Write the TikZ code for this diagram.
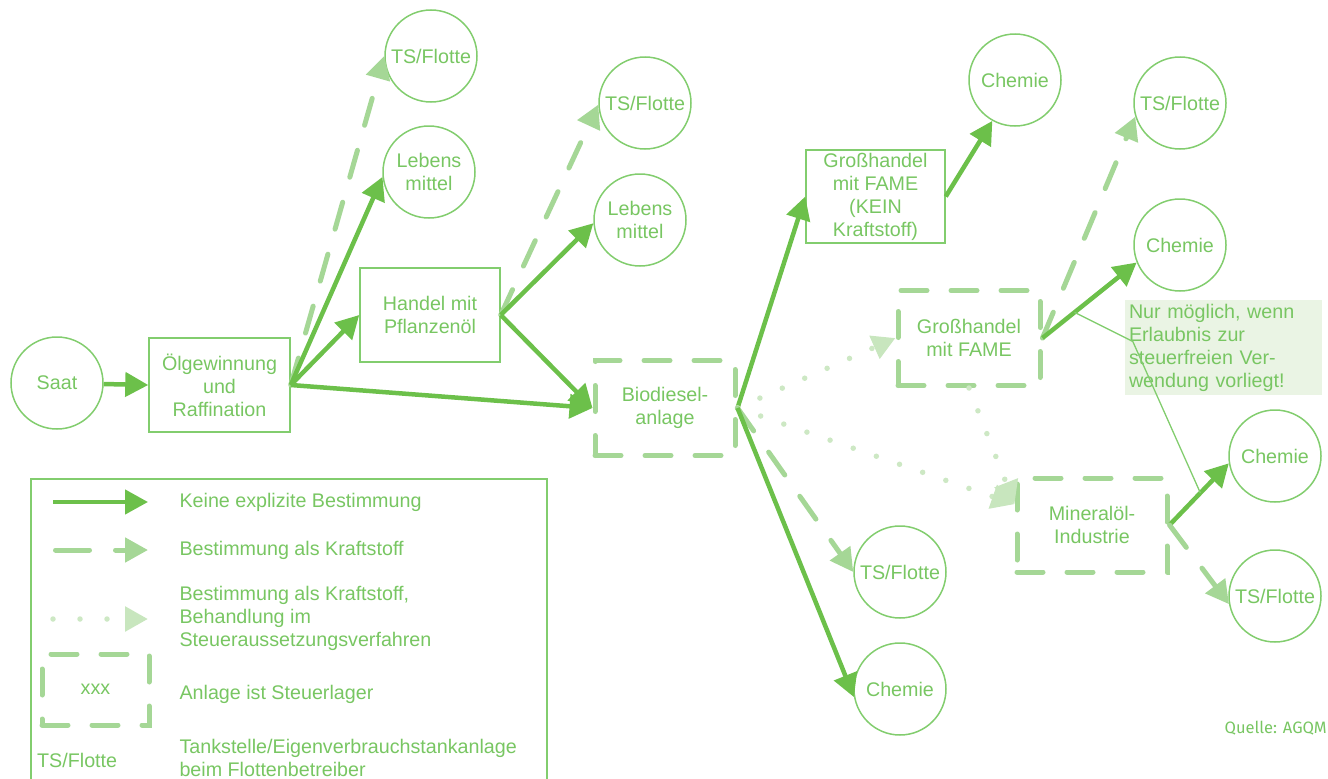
\documentclass[tikz,border=0pt]{standalone}
\usepackage{fontspec}
\setmainfont{Liberation Sans}
\newfontfamily\quellefont{Fira Sans}
\usetikzlibrary{arrows.meta,calc}
\definecolor{gsolid}{RGB}{108,192,74}
\definecolor{gtext}{RGB}{120,198,98}
\definecolor{gthin}{RGB}{130,205,110}
\definecolor{gdash}{RGB}{165,215,150}
\definecolor{gdot}{RGB}{205,232,196}
\definecolor{gdothead}{RGB}{200,230,190}
\definecolor{gnote}{RGB}{234,244,228}
\begin{document}
\begin{tikzpicture}[x=1pt,y=-1pt,
  every node/.style={font=\fontsize{19.7}{23}\selectfont, text=gtext, align=center},
  circ/.style={circle, draw=gthin, line width=1.5pt, minimum size=92pt, inner sep=0pt},
  plainbox/.style={rectangle, draw=gthin, line width=1.5pt, minimum width=#1, minimum height=94pt, inner sep=2pt},
  plainbox/.default=140pt,
  lagerbox/.style={rectangle, draw=gdash, line width=5pt, dash pattern=on 26pt off 24pt, line cap=round, minimum width=#1, minimum height=95pt, inner sep=2pt},
  lagerbox/.default=140pt,
  solidarr/.style={draw=gsolid, line width=4.5pt, -{Triangle[length=23pt,width=24pt]}},
  dasharr/.style={draw=gdash, line width=5pt, dash pattern=on 28pt off 26pt, line cap=round, -{Triangle[length=23pt,width=24pt]}},
  dotarr/.style={draw=gdot, line width=5.5pt, dash pattern=on 0pt off 24.5pt, line cap=round, -{Triangle[length=23pt,width=24pt,color=gdothead]}},
  legtext/.style={anchor=west, align=left}
]
\useasboundingbox (0,0) rectangle (1328,779);

% nodes
\node[circ] (saat) at (57,383) {Saat};
\node[plainbox=141pt] (olg) at (219.5,385) {Ölgewinnung\\und\\Raffination};
\node[circ] (ts1) at (431,56) {TS/Flotte};
\node[circ] (leb1) at (429,172) {Lebens\\mittel};
\node[plainbox] (handel) at (430,315) {Handel mit\\Pflanzenöl};
\node[circ] (ts2) at (645,103) {TS/Flotte};
\node[circ] (leb2) at (640,220) {Lebens\\mittel};
\node[lagerbox] (bio) at (665,408) {Biodiesel-\\anlage};
\node[plainbox=139pt, minimum height=93pt] (gk) at (875.5,196.5) {Großhandel\\mit FAME\\(KEIN\\Kraftstoff)};
\node[circ] (ch1) at (1015,80) {Chemie};
\node[circ] (ts3) at (1180,103) {TS/Flotte};
\node[circ] (ch2) at (1180,245) {Chemie};
\node[lagerbox=142pt] (gf) at (969,338) {Großhandel\\mit FAME};
\node[fill=gnote, text width=189pt, inner sep=4pt, minimum height=95pt, align=left] (note) at (1223.5,347.5)
  {Nur möglich, wenn\\Erlaubnis zur\\steuerfreien Ver-\\wendung vorliegt!};
\node[circ] (ch3) at (1275,456) {Chemie};
\node[lagerbox=150pt, minimum height=94pt] (min) at (1092,525) {Mineralöl-\\Industrie};
\node[circ] (ts4) at (1275,596) {TS/Flotte};
\node[circ] (ts5) at (900,572) {TS/Flotte};
\node[circ] (ch4) at (900,689) {Chemie};

% connectors
\draw[solidarr] (saat) -- (olg.west);
\draw[dasharr] (olg.east) -- (ts1.west);
\draw[solidarr] (olg.east) -- (leb1.186);
\draw[solidarr] (olg.east) -- (handel.west);
\draw[solidarr] (olg.east) -- (bio.west);
\draw[dasharr] (handel.east) -- (ts2.182);
\draw[solidarr] (handel.east) -- (leb2.184);
\draw[solidarr] (handel.east) -- (bio.west);
\draw[solidarr] (bio.east) -- (gk.west);
\draw[dotarr] (bio.east) -- (gf.west);
\draw[dotarr] (bio.east) -- (min.165);
\draw[dotarr] (gf.south) -- (min.165);
\draw[dasharr] (bio.east) -- (ts5.west);
\draw[solidarr] (bio.east) -- (ch4.190);
\draw[solidarr] (gk.east) -- (ch1.241);
\draw[dasharr] (gf.east) -- (ts3.197);
\draw[solidarr] (gf.east) -- (ch2.202);
\draw[solidarr] (min.east) -- (ch3.189);
\draw[dasharr] (min.east) -- (ts4.190);

% callout
\coordinate (c1) at ($(gf.east)!0.34!(ch2.202)$);
\coordinate (c2) at ($(note.west)+(8,-6)$);
\coordinate (c3) at ($(min.east)!0.52!(ch3.189)$);
\draw[gthin, line width=1.3pt] (c1) -- (c2) -- (c3);

% legend
\draw[gthin, line width=1.5pt] (31,779) -- (31,479) -- (547,479) -- (547,779);
\coordinate (l1a) at (53,502); \coordinate (l1b) at (148,502);
\draw[solidarr] (l1a) -- (l1b);
\node[legtext] (t1) at (176,502) {Keine explizite Bestimmung};
\coordinate (l2a) at (55.5,550); \coordinate (l2b) at (148,550);
\draw[dasharr, dash pattern=on 34pt off 26pt] (l2a) -- (l2b);
\node[legtext] (t2) at (176,550) {Bestimmung als Kraftstoff};
\coordinate (l3a) at (53,619); \coordinate (l3b) at (148,619);
\draw[dotarr, dash pattern=on 0pt off 27pt] (l3a) -- (l3b);
\node[legtext] (t3) at (176,618) {Bestimmung als Kraftstoff,\\Behandlung im\\Steueraussetzungsverfahren};
\node[lagerbox=107pt, minimum height=71pt] (lx) at (95.5,689.5) {xxx};
\node[legtext] (t4) at (176,694) {Anlage ist Steuerlager};
\node[anchor=west, inner sep=0pt] (tsl) at (37,760) {TS/Flotte};
\node[legtext] (t5) at (176,758) {Tankstelle/Eigenverbrauchstankanlage\\beim Flottenbetreiber};

\node[anchor=east, inner sep=0pt, font=\quellefont\fontsize{16.5}{18}\selectfont] (quelle) at (1327,728) {Quelle: AGQM};
\end{tikzpicture}
\end{document}
